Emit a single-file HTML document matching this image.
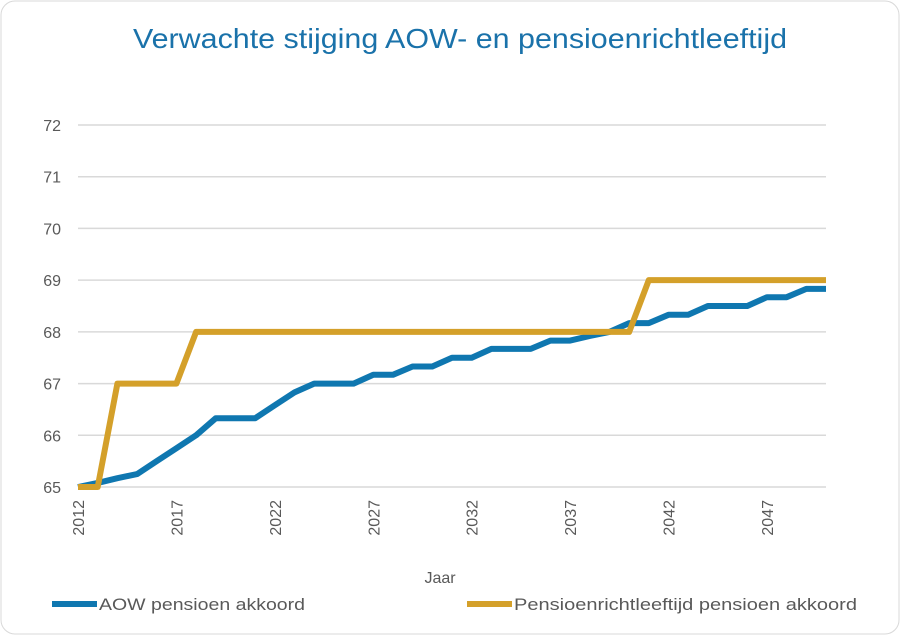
<!DOCTYPE html>
<html><head><style>
body{margin:0;background:#fff;}
svg{display:block;font-family:"Liberation Sans",sans-serif;}
</style></head><body>
<svg id="c" width="901" height="636">
<rect x="1" y="1" width="898" height="633" rx="14" fill="#fff" stroke="#d9d9d9"/>
<text x="133" y="48" textLength="654" lengthAdjust="spacingAndGlyphs" font-size="28" fill="#1a72aa">Verwachte stijging  AOW- en pensioenrichtleeftijd</text>
<g id="grid"></g><g id="lines"></g>
<text x="440" y="583" text-anchor="middle" font-size="16" fill="#595959">Jaar</text>
<line x1="52" y1="604" x2="97" y2="604" stroke="#0f77b0" stroke-width="6"/>
<text x="99" y="610" textLength="206" lengthAdjust="spacingAndGlyphs" font-size="17" fill="#595959">AOW pensioen akkoord</text>
<line x1="467" y1="604" x2="512" y2="604" stroke="#d4a02a" stroke-width="6"/>
<text x="514" y="610" textLength="343" lengthAdjust="spacingAndGlyphs" font-size="17" fill="#595959">Pensioenrichtleeftijd pensioen akkoord</text>
</svg>
<script>
const years=[];for(let y=2012;y<=2050;y++)years.push(y);
const yTicks=[65,66,67,68,69,70,71,72];
const xTickLabels=[2012,2017,2022,2027,2032,2037,2042,2047];
const aow=[65,65.08,65.17,65.25,65.5,65.75,66,66.33,66.33,66.33,66.58,66.83,67,67,67,67.17,67.17,67.33,67.33,67.5,67.5,67.67,67.67,67.67,67.83,67.83,67.92,68,68.17,68.17,68.33,68.33,68.5,68.5,68.5,68.67,68.67,68.83,68.83];
const pension=[65,65,67,67,67,67,68,68,68,68,68,68,68,68,68,68,68,68,68,68,68,68,68,68,68,68,68,68,68,69,69,69,69,69,69,69,69,69,69];
const NS="http://www.w3.org/2000/svg";
const x0=78,x1=826,yB=487,yT=125;
const xs=y=>x0+(y-years[0])/(years[years.length-1]-years[0])*(x1-x0);
const ys=v=>yB-(v-65)/(72-65)*(yB-yT);
const grid=document.getElementById('grid'),lines=document.getElementById('lines');
function mk(t,a,p){const e=document.createElementNS(NS,t);for(const k in a)e.setAttribute(k,a[k]);p.appendChild(e);return e;}
yTicks.forEach(v=>{
 const l=mk('line',{x1:x0,x2:x1,y1:ys(v),y2:ys(v),stroke:'#d9d9d9','stroke-width':1.5},grid);
 
 
 const t=mk('text',{x:61,y:ys(v)+6,'text-anchor':'end','font-size':16,fill:'#595959'},grid);
 t.textContent=v;
 
 
});
xTickLabels.forEach(v=>{
 const x=xs(v)+6,y=500;
 const t=mk('text',{x:x,y:y,'text-anchor':'end','font-size':16,fill:'#595959',transform:`rotate(-90 ${x} ${y})`},grid);
 t.textContent=v;
 
 
});
function series(vals,col,name){
 const d=vals.map((v,i)=>(i?'L':'M')+xs(years[i]).toFixed(1)+','+ys(v).toFixed(1)).join(' ');
 const p=mk('path',{d:d,fill:'none',stroke:col,'stroke-width':6,'stroke-linejoin':'round'},lines);
 
 
}
series(aow,'#0f77b0','aow-line');
series(pension,'#d4a02a','pension-line');
</script>
</body></html>
